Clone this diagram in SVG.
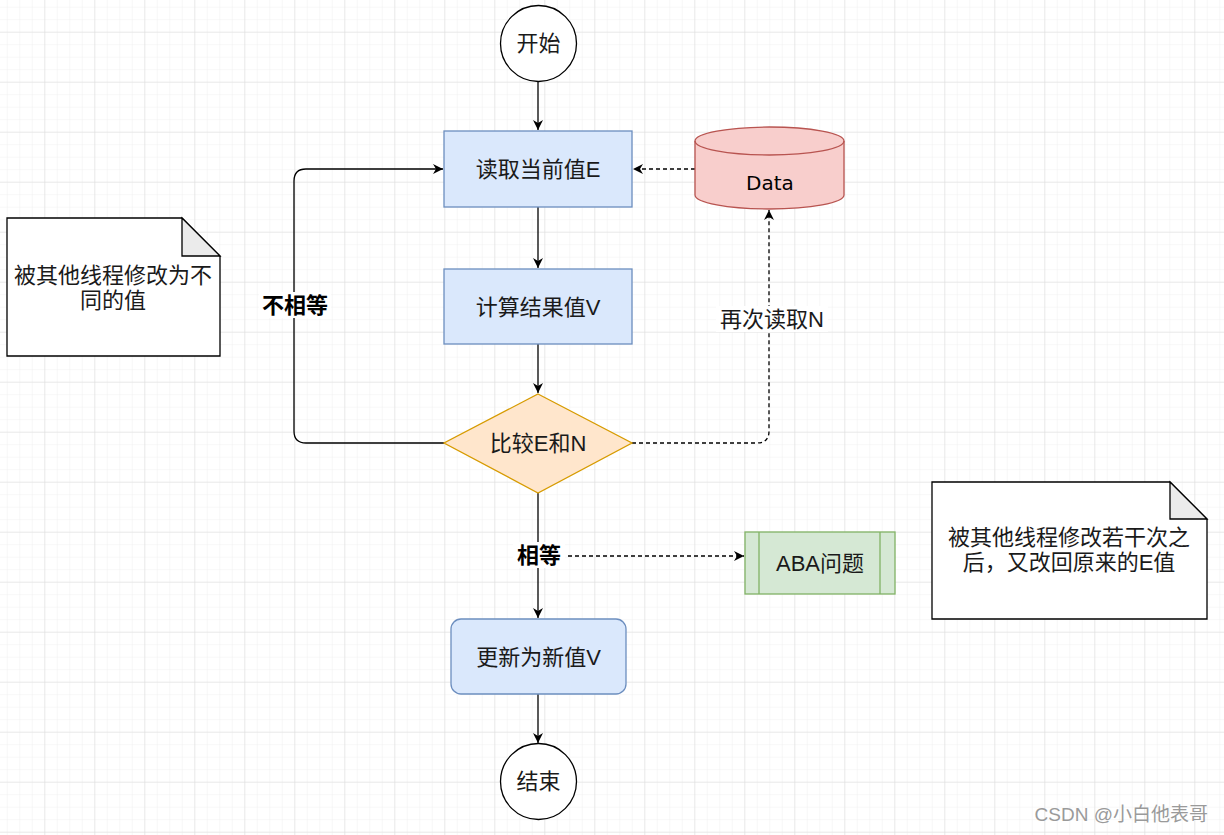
<svg xmlns="http://www.w3.org/2000/svg" width="1224" height="835" viewBox="0 0 1224 835">
  <defs>
    <pattern id="minor" patternUnits="userSpaceOnUse" x="6.8" y="6.7" width="12.5" height="12.5">
      <path d="M0,0 H12.5 M0,0 V12.5" fill="none" stroke="#f0f0f0" stroke-width="1"/>
    </pattern>
    <pattern id="major" patternUnits="userSpaceOnUse" x="44.3" y="31.7" width="50" height="50">
      <path d="M0,0 H50 M0,0 V50" fill="none" stroke="#dcdcdc" stroke-width="1"/>
    </pattern>
    <marker id="arr" markerUnits="userSpaceOnUse" markerWidth="12" markerHeight="12" refX="10" refY="5" orient="auto" viewBox="0 0 12 10">
      <path d="M0,0 L10,5 L0,10 L3,5 z" fill="#000"/>
    </marker>
    <style>
      .t { font-family: "Liberation Sans", "Noto Sans CJK SC", sans-serif; font-size: 22px; fill: #1a1a1a; text-anchor: middle; dominant-baseline: central; }
      .b { font-weight: bold; fill: #000; }
      .edge { fill: none; stroke: #000; stroke-width: 1.3; }
      .dash { stroke-dasharray: 4 3; }
      .blue { fill: #dae8fc; stroke: #6c8ebf; stroke-width: 1.3; }
      .circ { fill: #fff; stroke: #000; stroke-width: 1.3; }
      .note { fill: #fff; stroke: #000; stroke-width: 1.3; }
      .lblbg { fill: #fff; }
    </style>
  </defs>
  <rect width="1224" height="835" fill="#fff"/>
  <rect width="1224" height="835" fill="url(#minor)"/>
  <rect width="1224" height="835" fill="url(#major)"/>

  <g id="connectors">
    <path class="edge" d="M538,82 L538,130" marker-end="url(#arr)"/>
    <path class="edge dash" d="M695,169 L633,169" marker-end="url(#arr)"/>
    <path class="edge" d="M538,207 L538,268" marker-end="url(#arr)"/>
    <path class="edge" d="M538,344 L538,393" marker-end="url(#arr)"/>
    <path class="edge" d="M444,443 L306,443 Q294,443 294,431 L294,181 Q294,169 306,169 L443,169" marker-end="url(#arr)"/>
    <path class="edge dash" d="M632,443 L757,443 Q769,443 769,431 L769,210" marker-end="url(#arr)"/>
    <path class="edge" d="M538,493 L538,618" marker-end="url(#arr)"/>
    <path class="edge dash" d="M568,556 L744,556" marker-end="url(#arr)"/>
    <path class="edge" d="M538,694 L538,743" marker-end="url(#arr)"/>
    <rect class="lblbg" x="259" y="292" width="72" height="26"/>
    <text class="t b" x="295" y="305">不相等</text>
    <rect class="lblbg" x="716" y="306" width="112" height="26"/>
    <text class="t" x="772" y="319">再次读取N</text>
    <rect class="lblbg" x="513" y="542" width="52" height="26"/>
    <text class="t b" x="539" y="555">相等</text>
  </g>

  <g id="start">
    <circle class="circ" cx="538.5" cy="43.5" r="38"/>
    <text class="t" x="538.5" y="43.5">开始</text>
  </g>

  <g id="read">
    <rect class="blue" x="444" y="131" width="188" height="76"/>
    <text class="t" x="538" y="169">读取当前值E</text>
  </g>

  <g id="data">
    <path d="M695,141 L695,195 A74.5,14 0 0 0 844,195 L844,141 A74.5,14 0 0 0 695,141 Z" fill="#f8cecc" stroke="#b85450" stroke-width="1.3"/>
    <path d="M695,141 A74.5,14 0 0 0 844,141" fill="none" stroke="#b85450" stroke-width="1.3"/>
    <text x="770" y="183" font-family="'DejaVu Sans', sans-serif" font-size="20" fill="#000" text-anchor="middle" dominant-baseline="central">Data</text>
  </g>

  <g id="compute">
    <rect class="blue" x="444" y="269" width="188" height="75"/>
    <text class="t" x="538" y="307">计算结果值V</text>
  </g>

  <g id="compare">
    <path d="M538,394 L632,443 L538,493 L444,443 Z" fill="#ffe6cc" stroke="#d79b00" stroke-width="1.3"/>
    <text class="t" x="538" y="443">比较E和N</text>
  </g>

  <g id="aba">
    <rect x="745" y="532" width="150" height="62" fill="#d5e8d4" stroke="#82b366" stroke-width="1.3"/>
    <path d="M759,532 V594 M880,532 V594" stroke="#82b366" stroke-width="1.3" fill="none"/>
    <text class="t" x="820" y="563">ABA问题</text>
  </g>

  <g id="update">
    <rect class="blue" x="451" y="619" width="175" height="75" rx="10" ry="10"/>
    <text class="t" x="538.5" y="657">更新为新值V</text>
  </g>

  <g id="end">
    <circle class="circ" cx="538.5" cy="781.5" r="38"/>
    <text class="t" x="538.5" y="781.5">结束</text>
  </g>

  <g id="note1">
    <path class="note" d="M7,218 L182,218 L220,256 L220,356 L7,356 Z"/>
    <path d="M182,218 L182,256 L220,256 Z" fill="#ebebeb" stroke="#000" stroke-width="1.3"/>
    <text class="t" x="113" y="275">被其他线程修改为不<tspan x="113" dy="25">同的值</tspan></text>
  </g>

  <g id="note2">
    <path class="note" d="M932,482 L1170,482 L1207,519 L1207,619 L932,619 Z"/>
    <path d="M1170,482 L1170,519 L1207,519 Z" fill="#ebebeb" stroke="#000" stroke-width="1.3"/>
    <text class="t" x="1069" y="537">被其他线程修改若干次之<tspan x="1069" dy="25">后，又改回原来的E值</tspan></text>
  </g>

  <text x="1208" y="814" font-family="'Liberation Sans', 'Noto Sans CJK SC', sans-serif" font-size="19" fill="#9a9a9a" text-anchor="end" dominant-baseline="central">CSDN @小白他表哥</text>
</svg>
